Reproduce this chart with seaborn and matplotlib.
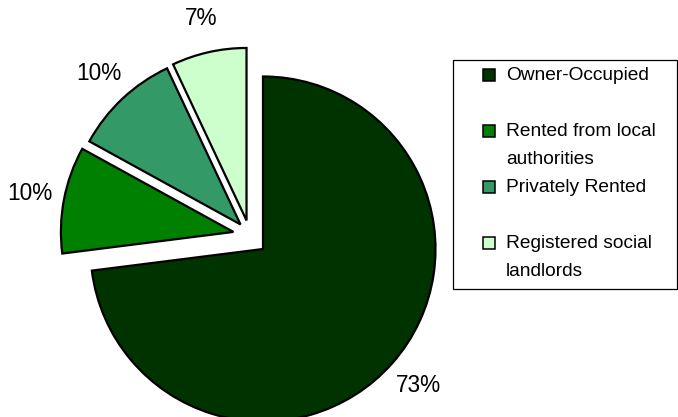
import numpy as np
import matplotlib
matplotlib.use("Agg")
import matplotlib.pyplot as plt
from matplotlib.patches import Rectangle
import seaborn as sns

# Housing tenure shares (%)
tenures = ["Owner-Occupied", "Rented from local\nauthorities", "Privately Rented",
           "Registered social\nlandlords"]
shares = [73, 10, 10, 7]
colors = ["#003300", "#008000", "#339966", "#CCFFCC"]

# Where each pulled-out slice is moved to (fraction of radius, direction in degrees)
pull_dist = [0.0, 0.198, 0.193, 0.191]
pull_dir = [0.0, 150.0, 132.5, 120.0]

sns.set_theme(style="white")
plt.rcParams["font.family"] = ["Liberation Sans", "DejaVu Sans"]

W, H = 678, 417
fig = plt.figure(figsize=(W / 100, H / 100), dpi=100)
ax = fig.add_axes([0, 0, 1, 1])

wedges, _ = ax.pie(shares, colors=colors, startangle=90, counterclock=False,
                   radius=1.0, wedgeprops=dict(edgecolor="black", linewidth=1.6))

# Pie centre sits at pixel (263, 249) with a radius of 172.5 px
R_PX = 172.5
cx, cy = 263, 249
ax.set_xlim(-cx / R_PX, (W - cx) / R_PX)
ax.set_ylim((cy - H) / R_PX, cy / R_PX)
ax.set_aspect("auto")
ax.axis("off")

for w, d, a, val in zip(wedges, pull_dist, pull_dir, shares):
    ox, oy = d * np.cos(np.radians(a)), d * np.sin(np.radians(a))
    w.set_center((ox, oy))
    mid = np.radians((w.theta1 + w.theta2) / 2)
    ax.text(ox + 1.2 * np.cos(mid), oy + 1.2 * np.sin(mid), f"{val}%",
            ha="center", va="center", fontsize=16.3, color="black")

# Legend box on the right
def fx(px):
    return px / W

def fy(py):
    return 1 - py / H

fig.patches.append(Rectangle((fx(453), fy(289)), fx(677) - fx(453), fy(60) - fy(289),
                             transform=fig.transFigure, facecolor="white",
                             edgecolor="black", linewidth=0.9, zorder=1))
for i, (lab, col) in enumerate(zip(tenures, colors)):
    yc = 75 + 56 * i
    fig.patches.append(Rectangle((fx(483), fy(yc + 6)), fx(12), 12 / H,
                                 transform=fig.transFigure, facecolor=col,
                                 edgecolor="black", linewidth=1.1, zorder=2))
    for k, line in enumerate(lab.split("\n")):
        fig.text(fx(506), fy(yc + 4.5 + 28.5 * k), line, ha="left", va="baseline",
                 fontsize=13.8, color="black")

fig.savefig("out.png", dpi=100)
